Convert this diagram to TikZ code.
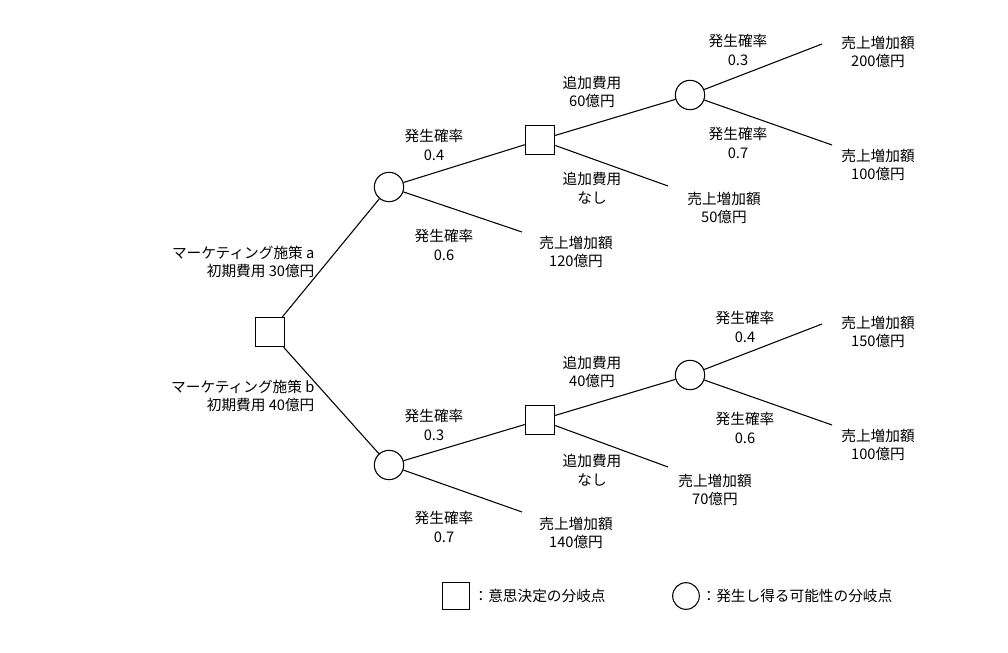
\documentclass[tikz,border=0pt]{standalone}
\usepackage{fontspec}
\setmainfont{Noto Sans CJK JP}
\usetikzlibrary{positioning}

\begin{document}
\begin{tikzpicture}[
    x=0.75pt, y=-0.75pt,
    font=\fontsize{11}{14}\selectfont,
    decision/.style={rectangle, draw, thick, minimum size=22pt, inner sep=0pt},
    chance/.style={circle, draw, thick, minimum size=22pt, inner sep=0pt},
    branch/.style={thick},
    label/.style={align=center, inner sep=1pt}
]
\useasboundingbox (0,0) rectangle (1008,653);

% Nodes
\node[decision] (root) at (270,332) {};
\node[chance] (ca) at (389,187) {};
\node[chance] (cb) at (389,465) {};
\node[decision] (da) at (540,140) {};
\node[decision] (db) at (540,420) {};
\node[chance] (ea) at (690,95) {};
\node[chance] (eb) at (690,375) {};

% Leaf ends
\coordinate (a1) at (822,44);
\coordinate (a2) at (832,145);
\coordinate (a3) at (668,186);
\coordinate (a4) at (522,232);
\coordinate (b1) at (822,324);
\coordinate (b2) at (832,425);
\coordinate (b3) at (668,467);
\coordinate (b4) at (522,512);

% Branches
\draw[branch] (root) -- (ca);
\draw[branch] (root) -- (cb);
\draw[branch] (ca) -- (da);
\draw[branch] (ca) -- (a4);
\draw[branch] (da) -- (ea);
\draw[branch] (da) -- (a3);
\draw[branch] (ea) -- (a1);
\draw[branch] (ea) -- (a2);
\draw[branch] (cb) -- (db);
\draw[branch] (cb) -- (b4);
\draw[branch] (db) -- (eb);
\draw[branch] (db) -- (b3);
\draw[branch] (eb) -- (b1);
\draw[branch] (eb) -- (b2);

% Labels
\node[label, align=right, anchor=east] (pa) at (316,262) {マーケティング施策 a\\初期費用 30億円};
\node[label, align=right, anchor=east] (pb) at (316,396) {マーケティング施策 b\\初期費用 40億円};
\node[label] (la1) at (434,145) {発生確率\\0.4};
\node[label] (la2) at (444,245) {発生確率\\0.6};
\node[label] (la3) at (592,92) {追加費用\\60億円};
\node[label] (la4) at (592,188) {追加費用\\なし};
\node[label] (la5) at (738,50) {発生確率\\0.3};
\node[label] (la6) at (738,143) {発生確率\\0.7};
\node[label] (ta1) at (878,52) {売上増加額\\200億円};
\node[label] (ta2) at (878,165) {売上増加額\\100億円};
\node[label] (ta3) at (724,208) {売上増加額\\50億円};
\node[label] (ta4) at (576,252) {売上増加額\\120億円};
\node[label] (lb1) at (434,425) {発生確率\\0.3};
\node[label] (lb2) at (444,527) {発生確率\\0.7};
\node[label] (lb3) at (592,372) {追加費用\\40億円};
\node[label] (lb4) at (592,470) {追加費用\\なし};
\node[label] (lb5) at (745,327) {発生確率\\0.4};
\node[label] (lb6) at (745,428) {発生確率\\0.6};
\node[label] (tb1) at (878,332) {売上増加額\\150億円};
\node[label] (tb2) at (878,445) {売上増加額\\100億円};
\node[label] (tb3) at (715,490) {売上増加額\\70億円};
\node[label] (tb4) at (576,533) {売上増加額\\140億円};

% Legend
\node[decision, minimum size=20pt] (keysq) at (456,596) {};
\node[anchor=west, inner sep=1pt] (keysqt) at (472,596) {：意思決定の分岐点};
\node[chance, minimum size=20pt] (keyci) at (686,596) {};
\node[anchor=west, inner sep=1pt] (keycit) at (700,596) {：発生し得る可能性の分岐点};

\end{tikzpicture}
\end{document}
